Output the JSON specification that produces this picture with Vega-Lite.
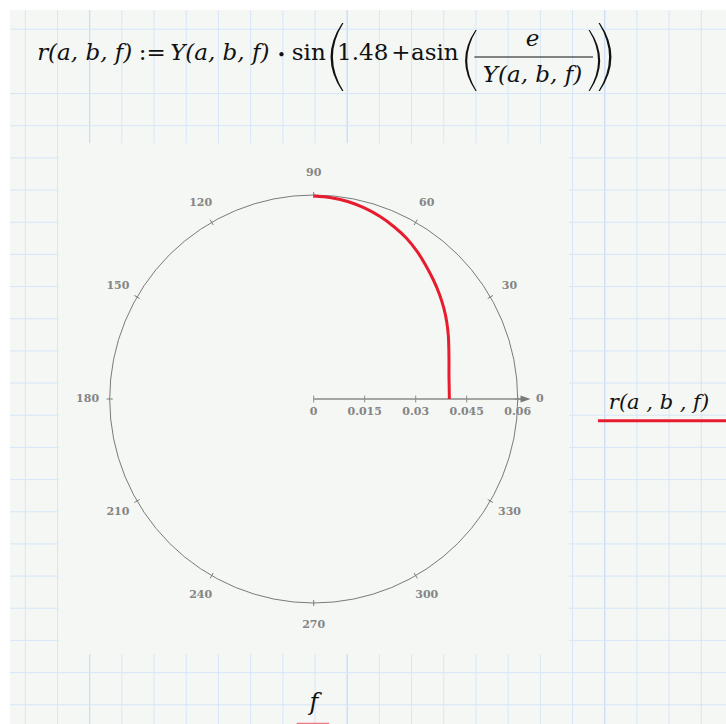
{
  "$schema": "https://vega.github.io/schema/vega-lite/v6.json",
  "width": 726,
  "height": 724,
  "padding": 0,
  "autosize": {"type": "none"},
  "background": "#ffffff",
  "config": {"view": {"stroke": null}},
  "datasets": {
    "gridColumns": [{"k":0},{"k":1},{"k":2},{"k":3},{"k":4},{"k":5},{"k":6},{"k":7},{"k":8},{"k":9},{"k":10},{"k":11},{"k":12},{"k":13},{"k":14},{"k":15},{"k":16},{"k":17},{"k":18},{"k":19},{"k":20},{"k":21}],
    "majorColumns": [{"k":2},{"k":10},{"k":18}],
    "gridRows": [{"k":0},{"k":2},{"k":3},{"k":4},{"k":5},{"k":6},{"k":7},{"k":8},{"k":9},{"k":10},{"k":11},{"k":12},{"k":13},{"k":14},{"k":15},{"k":16},{"k":17},{"k":18},{"k":19},{"k":20},{"k":21}],
    "formula": [
      {"text":"r(a, b, f)","kind":"variable","gx":1.845,"gy":0.957},
      {"text":":=","kind":"operator","gx":3.945,"gy":0.957},
      {"text":"Y(a, b, f)","kind":"variable","gx":6.042,"gy":0.957},
      {"text":"sin","kind":"operator","gx":8.807,"gy":0.957},
      {"text":"1.48","kind":"operator","gx":10.482,"gy":0.957},
      {"text":"+","kind":"operator","gx":11.671,"gy":0.957},
      {"text":"asin","kind":"operator","gx":12.721,"gy":0.957},
      {"text":"e","kind":"variable","gx":15.76,"gy":0.531},
      {"text":"Y(a, b, f)","kind":"variable","gx":15.756,"gy":1.641}
    ],
    "brackets": [
      {"glyph":"open","depth":"outer","gx":9.652,"gy":0.864},
      {"glyph":"close","depth":"outer","gx":18.04,"gy":0.864},
      {"glyph":"open","depth":"inner","gx":13.815,"gy":0.973},
      {"glyph":"close","depth":"inner","gx":17.707,"gy":0.973}
    ],
    "angles": [
      {"angle":0,"label":"0"},{"angle":30,"label":"30"},{"angle":60,"label":"60"},{"angle":90,"label":"90"},
      {"angle":120,"label":"120"},{"angle":150,"label":"150"},{"angle":180,"label":"180"},{"angle":210,"label":"210"},
      {"angle":240,"label":"240"},{"angle":270,"label":"270"},{"angle":300,"label":"300"},{"angle":330,"label":"330"}
    ],
    "radialTicks": [
      {"value":0,"label":"0"},{"value":0.015,"label":"0.015"},{"value":0.03,"label":"0.03"},{"value":0.045,"label":"0.045"},{"value":0.06,"label":"0.06"}
    ],
    "curve": [
      {"theta":0,"r":0.0399},{"theta":5,"r":0.0400},{"theta":10,"r":0.0404},{"theta":15,"r":0.0412},
      {"theta":20,"r":0.0423},{"theta":25,"r":0.0437},{"theta":30,"r":0.0452},{"theta":35,"r":0.0467},
      {"theta":40,"r":0.0482},{"theta":45,"r":0.0497},{"theta":50,"r":0.0513},{"theta":55,"r":0.0530},
      {"theta":60,"r":0.0546},{"theta":65,"r":0.0559},{"theta":70,"r":0.0571},{"theta":75,"r":0.0581},
      {"theta":80,"r":0.0589},{"theta":85,"r":0.0594},{"theta":90,"r":0.0597}
    ]
  },
  "layer": [
    {
      "layer": [
        {
          "data": {"values": [{}]},
          "mark": {"type": "rect", "fill": "#f4f7f4"},
          "encoding": {
            "x": {"datum": -0.475, "type": "quantitative", "scale": {"domain": [-0.786, 21.768], "nice": false, "zero": false}, "axis": null},
            "x2": {"datum": 21.77},
            "y": {"datum": -0.597, "type": "quantitative", "scale": {"domain": [-0.908, 21.598], "nice": false, "zero": false, "reverse": true}, "axis": null},
            "y2": {"datum": 21.6}
          }
        },
        {
          "data": {"name": "gridColumns"},
          "mark": {"type": "rule", "stroke": "#d6e6f8", "strokeWidth": 1},
          "encoding": {
            "x": {"field": "k", "type": "quantitative", "scale": {"domain": [-0.786, 21.768], "nice": false, "zero": false}, "axis": null},
            "y": {"datum": -0.597, "type": "quantitative", "scale": {"domain": [-0.908, 21.598], "nice": false, "zero": false, "reverse": true}, "axis": null},
            "y2": {"datum": 21.6}
          }
        },
        {
          "data": {"name": "majorColumns"},
          "mark": {"type": "rule", "stroke": "#c6dcf6", "strokeWidth": 1},
          "encoding": {
            "x": {"field": "k", "type": "quantitative", "scale": {"domain": [-0.786, 21.768], "nice": false, "zero": false}, "axis": null},
            "y": {"datum": -0.597, "type": "quantitative", "scale": {"domain": [-0.908, 21.598], "nice": false, "zero": false, "reverse": true}, "axis": null},
            "y2": {"datum": 21.6}
          }
        },
        {
          "data": {"name": "gridRows"},
          "mark": {"type": "rule", "stroke": "#d6e6f8", "strokeWidth": 1},
          "encoding": {
            "y": {"field": "k", "type": "quantitative", "scale": {"domain": [-0.908, 21.598], "nice": false, "zero": false, "reverse": true}, "axis": null},
            "x": {"datum": -0.475, "type": "quantitative", "scale": {"domain": [-0.786, 21.768], "nice": false, "zero": false}, "axis": null},
            "x2": {"datum": 21.77}
          }
        },
        {
          "data": {"values": [{}]},
          "mark": {"type": "rect", "fill": "#f4f7f4"},
          "encoding": {
            "x": {"datum": 1.031, "type": "quantitative", "scale": {"domain": [-0.786, 21.768], "nice": false, "zero": false}, "axis": null},
            "x2": {"datum": 16.89},
            "y": {"datum": 3.547, "type": "quantitative", "scale": {"domain": [-0.908, 21.598], "nice": false, "zero": false, "reverse": true}, "axis": null},
            "y2": {"datum": 19.431}
          }
        },
        {
          "data": {"name": "formula"},
          "transform": [{"filter": "datum.kind === 'variable'"}],
          "mark": {"type": "text", "font": "DejaVu Serif", "fontStyle": "italic", "fontSize": 23, "align": "center", "baseline": "alphabetic", "fill": "#111111"},
          "encoding": {
            "x": {"field": "gx", "type": "quantitative", "scale": {"domain": [-0.786, 21.768], "nice": false, "zero": false}, "axis": null},
            "y": {"field": "gy", "type": "quantitative", "scale": {"domain": [-0.908, 21.598], "nice": false, "zero": false, "reverse": true}, "axis": null},
            "text": {"field": "text"}
          }
        },
        {
          "data": {"name": "formula"},
          "transform": [{"filter": "datum.kind === 'operator'"}],
          "mark": {"type": "text", "font": "DejaVu Serif", "fontSize": 23, "align": "center", "baseline": "alphabetic", "fill": "#111111"},
          "encoding": {
            "x": {"field": "gx", "type": "quantitative", "scale": {"domain": [-0.786, 21.768], "nice": false, "zero": false}, "axis": null},
            "y": {"field": "gy", "type": "quantitative", "scale": {"domain": [-0.908, 21.598], "nice": false, "zero": false, "reverse": true}, "axis": null},
            "text": {"field": "text"}
          }
        },
        {
          "data": {"values": [{"text": "•"}]},
          "mark": {"type": "text", "font": "DejaVu Serif", "fontSize": 15, "align": "center", "baseline": "alphabetic", "fill": "#111111"},
          "encoding": {
            "x": {"datum": 7.956, "type": "quantitative", "scale": {"domain": [-0.786, 21.768], "nice": false, "zero": false}, "axis": null},
            "y": {"datum": 0.945, "type": "quantitative", "scale": {"domain": [-0.908, 21.598], "nice": false, "zero": false, "reverse": true}, "axis": null},
            "text": {"field": "text"}
          }
        },
        {
          "data": {"name": "brackets"},
          "transform": [{"filter": "datum.depth === 'outer'"}],
          "mark": {"type": "point", "size": 4624, "filled": true, "fill": "#111111", "strokeWidth": 0, "opacity": 1},
          "encoding": {
            "x": {"field": "gx", "type": "quantitative", "scale": {"domain": [-0.786, 21.768], "nice": false, "zero": false}, "axis": null},
            "y": {"field": "gy", "type": "quantitative", "scale": {"domain": [-0.908, 21.598], "nice": false, "zero": false, "reverse": true}, "axis": null},
            "shape": {"field": "glyph", "type": "nominal", "legend": null, "scale": {"domain": ["open", "close"], "range": ["M 0.18 -1 Q -0.5 0 0.18 1 L 0.22 1 Q -0.4 0 0.22 -1 Z", "M -0.18 -1 Q 0.5 0 -0.18 1 L -0.22 1 Q 0.4 0 -0.22 -1 Z"]}}
          }
        },
        {
          "data": {"name": "brackets"},
          "transform": [{"filter": "datum.depth === 'inner'"}],
          "mark": {"type": "point", "size": 3721, "filled": true, "fill": "#111111", "strokeWidth": 0, "opacity": 1},
          "encoding": {
            "x": {"field": "gx", "type": "quantitative", "scale": {"domain": [-0.786, 21.768], "nice": false, "zero": false}, "axis": null},
            "y": {"field": "gy", "type": "quantitative", "scale": {"domain": [-0.908, 21.598], "nice": false, "zero": false, "reverse": true}, "axis": null},
            "shape": {"field": "glyph", "type": "nominal", "legend": null, "scale": {"domain": ["open", "close"], "range": ["M 0.18 -1 Q -0.5 0 0.18 1 L 0.22 1 Q -0.4 0 0.22 -1 Z", "M -0.18 -1 Q 0.5 0 -0.18 1 L -0.22 1 Q 0.4 0 -0.22 -1 Z"]}}
          }
        },
        {
          "data": {"values": [{}]},
          "mark": {"type": "rule", "stroke": "#111111", "strokeWidth": 1.2},
          "encoding": {
            "x": {"datum": 13.951, "type": "quantitative", "scale": {"domain": [-0.786, 21.768], "nice": false, "zero": false}, "axis": null},
            "x2": {"datum": 17.636},
            "y": {"datum": 0.864, "type": "quantitative", "scale": {"domain": [-0.908, 21.598], "nice": false, "zero": false, "reverse": true}, "axis": null}
          }
        },
        {
          "data": {"values": [{"text": "r(a , b , f)"}]},
          "mark": {"type": "text", "font": "DejaVu Serif", "fontStyle": "italic", "fontSize": 21, "align": "center", "baseline": "alphabetic", "fill": "#111111"},
          "encoding": {
            "x": {"datum": 19.686, "type": "quantitative", "scale": {"domain": [-0.786, 21.768], "nice": false, "zero": false}, "axis": null},
            "y": {"datum": 11.806, "type": "quantitative", "scale": {"domain": [-0.908, 21.598], "nice": false, "zero": false, "reverse": true}, "axis": null},
            "text": {"field": "text"}
          }
        },
        {
          "data": {"values": [{}]},
          "mark": {"type": "rule", "stroke": "#e81c2e", "strokeWidth": 3},
          "encoding": {
            "x": {"datum": 17.79, "type": "quantitative", "scale": {"domain": [-0.786, 21.768], "nice": false, "zero": false}, "axis": null},
            "x2": {"datum": 22.2},
            "y": {"datum": 12.17, "type": "quantitative", "scale": {"domain": [-0.908, 21.598], "nice": false, "zero": false, "reverse": true}, "axis": null}
          }
        },
        {
          "data": {"values": [{"text": "f"}]},
          "mark": {"type": "text", "font": "DejaVu Serif", "fontStyle": "italic", "fontSize": 24, "align": "center", "baseline": "alphabetic", "fill": "#111111"},
          "encoding": {
            "x": {"datum": 8.969, "type": "quantitative", "scale": {"domain": [-0.786, 21.768], "nice": false, "zero": false}, "axis": null},
            "y": {"datum": 21.16, "type": "quantitative", "scale": {"domain": [-0.908, 21.598], "nice": false, "zero": false, "reverse": true}, "axis": null},
            "text": {"field": "text"}
          }
        },
        {
          "data": {"values": [{}]},
          "mark": {"type": "rule", "stroke": "#f07a85", "strokeWidth": 3},
          "encoding": {
            "x": {"datum": 8.43, "type": "quantitative", "scale": {"domain": [-0.786, 21.768], "nice": false, "zero": false}, "axis": null},
            "x2": {"datum": 9.44},
            "y": {"datum": 21.604, "type": "quantitative", "scale": {"domain": [-0.908, 21.598], "nice": false, "zero": false, "reverse": true}, "axis": null}
          }
        }
      ]
    },
    {
      "layer": [
        {
          "data": {"values": [{}]},
          "mark": {"type": "point", "shape": "circle", "size": 166464, "filled": false, "stroke": "#7a7a7a", "strokeWidth": 1, "opacity": 1},
          "encoding": {
            "x": {"datum": 0, "type": "quantitative", "scale": {"domain": [-0.092265, 0.121265], "nice": false, "zero": false}, "axis": null},
            "y": {"datum": 0, "type": "quantitative", "scale": {"domain": [-0.095588, 0.117353], "nice": false, "zero": false}, "axis": null}
          }
        },
        {
          "data": {"name": "angles"},
          "transform": [
            {"calculate": "datum.angle * PI / 180", "as": "rad"},
            {"calculate": "0.0591 * cos(datum.rad)", "as": "tx0"},
            {"calculate": "0.0591 * sin(datum.rad)", "as": "ty0"},
            {"calculate": "0.0609 * cos(datum.rad)", "as": "tx1"},
            {"calculate": "0.0609 * sin(datum.rad)", "as": "ty1"}
          ],
          "mark": {"type": "rule", "stroke": "#7a7a7a", "strokeWidth": 1},
          "encoding": {
            "x": {"field": "tx0", "type": "quantitative", "scale": {"domain": [-0.092265, 0.121265], "nice": false, "zero": false}, "axis": null},
            "y": {"field": "ty0", "type": "quantitative", "scale": {"domain": [-0.095588, 0.117353], "nice": false, "zero": false}, "axis": null},
            "x2": {"field": "tx1"},
            "y2": {"field": "ty1"}
          }
        },
        {
          "data": {"name": "angles"},
          "transform": [
            {"calculate": "datum.angle * PI / 180", "as": "rad"},
            {"calculate": "0.0665 * cos(datum.rad)", "as": "lx"},
            {"calculate": "0.0665 * sin(datum.rad)", "as": "ly"}
          ],
          "mark": {"type": "text", "font": "DejaVu Serif", "fontSize": 11, "fontWeight": "bold", "align": "center", "baseline": "middle", "fill": "#858585"},
          "encoding": {
            "x": {"field": "lx", "type": "quantitative", "scale": {"domain": [-0.092265, 0.121265], "nice": false, "zero": false}, "axis": null},
            "y": {"field": "ly", "type": "quantitative", "scale": {"domain": [-0.095588, 0.117353], "nice": false, "zero": false}, "axis": null},
            "text": {"field": "label"}
          }
        },
        {
          "data": {"values": [{}]},
          "mark": {"type": "rule", "stroke": "#8a8a8a", "strokeWidth": 1.5},
          "encoding": {
            "x": {"datum": 0, "type": "quantitative", "scale": {"domain": [-0.092265, 0.121265], "nice": false, "zero": false}, "axis": null},
            "x2": {"datum": 0.0621},
            "y": {"datum": 0, "type": "quantitative", "scale": {"domain": [-0.095588, 0.117353], "nice": false, "zero": false}, "axis": null}
          }
        },
        {
          "data": {"name": "radialTicks"},
          "mark": {"type": "rule", "stroke": "#8a8a8a", "strokeWidth": 1},
          "encoding": {
            "x": {"field": "value", "type": "quantitative", "scale": {"domain": [-0.092265, 0.121265], "nice": false, "zero": false}, "axis": null},
            "y": {"datum": -0.001, "type": "quantitative", "scale": {"domain": [-0.095588, 0.117353], "nice": false, "zero": false}, "axis": null},
            "y2": {"datum": 0.001}
          }
        },
        {
          "data": {"name": "radialTicks"},
          "mark": {"type": "text", "font": "DejaVu Serif", "fontSize": 11, "fontWeight": "bold", "align": "center", "baseline": "middle", "fill": "#858585"},
          "encoding": {
            "x": {"field": "value", "type": "quantitative", "scale": {"domain": [-0.092265, 0.121265], "nice": false, "zero": false}, "axis": null},
            "y": {"datum": -0.0037, "type": "quantitative", "scale": {"domain": [-0.095588, 0.117353], "nice": false, "zero": false}, "axis": null},
            "text": {"field": "label"}
          }
        },
        {
          "data": {"values": [{}]},
          "mark": {"type": "point", "shape": "M -1 -0.7 L 1 0 L -1 0.7 Z", "size": 100, "filled": true, "fill": "#7a7a7a", "strokeWidth": 0, "opacity": 1},
          "encoding": {
            "x": {"datum": 0.0623, "type": "quantitative", "scale": {"domain": [-0.092265, 0.121265], "nice": false, "zero": false}, "axis": null},
            "y": {"datum": 0, "type": "quantitative", "scale": {"domain": [-0.095588, 0.117353], "nice": false, "zero": false}, "axis": null}
          }
        },
        {
          "data": {"name": "curve"},
          "transform": [
            {"calculate": "datum.theta * PI / 180", "as": "rad"},
            {"calculate": "datum.r * cos(datum.rad)", "as": "px"},
            {"calculate": "datum.r * sin(datum.rad)", "as": "py"}
          ],
          "mark": {"type": "line", "stroke": "#e81c2e", "strokeWidth": 3, "strokeCap": "butt", "interpolate": "catmull-rom"},
          "encoding": {
            "x": {"field": "px", "type": "quantitative", "scale": {"domain": [-0.092265, 0.121265], "nice": false, "zero": false}, "axis": null},
            "y": {"field": "py", "type": "quantitative", "scale": {"domain": [-0.095588, 0.117353], "nice": false, "zero": false}, "axis": null},
            "order": {"field": "theta", "type": "quantitative"}
          }
        }
      ]
    }
  ],
  "resolve": {"scale": {"x": "independent", "y": "independent"}}
}
